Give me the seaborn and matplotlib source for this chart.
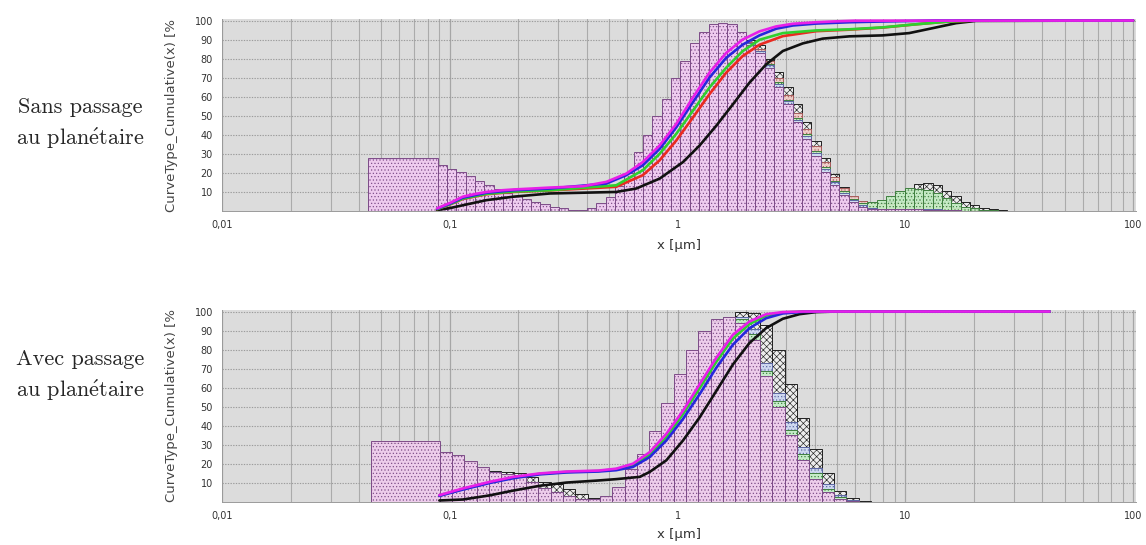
import numpy as np
import matplotlib
matplotlib.use("Agg")
import matplotlib.pyplot as plt
import seaborn as sns
from matplotlib.ticker import FixedLocator, FixedFormatter, LogLocator, MultipleLocator, NullFormatter

# ---------------- data ----------------
# size classes (µm): first wide class, then geometric classes of the instrument
top_first_edge = 0.0437
top_class_start = 0.0885
top_class_step = 0.041          # log10 width of a class
top_class_count = 61
bot_first_edge = 0.045
bot_class_start = 0.0903
bot_class_step = 0.0541
bot_class_count = 35

# density histograms, top panel (wide class + 61 classes)
top_magenta = [28, 24, 22.2, 20.5, 18.2, 15.8, 13.5, 11.3, 9.2, 7.8, 6.1, 4.7, 3.5, 2.3, 1.4, 0.6,
               0.6, 1.8, 4, 7.5, 13, 20, 31, 40, 50, 59, 70, 79, 88, 94, 98, 98.5, 98, 94, 87, 83,
               75, 65, 56, 46.5, 38, 29, 20.5, 13.5, 8.3, 4.9, 2.3, 1.2, 0.8, 0.8, 0.8, 0.8, 0.8,
               0.7, 0.6, 0.5, 0.3, 0.2, 0, 0, 0, 0]
top_blue = [27.5, 23.5, 21.8, 20, 17.8, 15.4, 13.2, 11, 9, 7.6, 6, 4.6, 3.4, 2.2, 1.3, 0.6,
            0.6, 1.6, 3.8, 7, 12, 19, 29.5, 38.5, 48.5, 57.5, 68, 77.5, 86.5, 93, 97, 98, 97.5,
            94, 88, 84, 76.5, 66.5, 57.5, 48, 39.5, 30.5, 22, 15, 9.5, 5.8, 3, 1.8, 1.2, 1, 1,
            1, 1, 0.9, 0.8, 0.6, 0.4, 0.2, 0.1, 0, 0, 0]
top_green = [26, 23, 21.5, 19.8, 17.5, 15, 12.8, 10.7, 8.7, 7.2, 5.6, 4.3, 3.2, 2.1, 1.3, 0.6,
             0.6, 1.5, 3.5, 6.5, 11.5, 18, 28, 37, 47, 56, 66, 75, 84, 90, 94, 96, 96, 93, 88,
             84, 77, 67.5, 58.5, 49, 40.5, 31.5, 23, 16, 10.5, 6.5, 4, 4.9, 6, 7.8, 10.6, 12.3,
             11.3, 11, 9.2, 6.6, 4, 2.3, 1.4, 0.6, 0.3, 0]
top_red = [27, 23.5, 22, 20, 17.8, 15.4, 13.1, 11, 9, 7.5, 5.8, 4.5, 3.3, 2.2, 1.3, 0.6,
           0.6, 1.4, 3.2, 6, 10.5, 16.5, 26, 35, 45, 54, 64, 73, 82, 88, 92, 94.5, 95, 93, 88.5,
           85, 79, 70, 61, 51.5, 43, 34, 25.5, 18, 12, 8, 5.5, 4, 3.5, 3.5, 4, 4.5, 4.5, 4, 3.5,
           2.5, 1.8, 1, 0.5, 0.2, 0, 0]
top_black = [16, 15, 14, 13, 12, 10.5, 9, 7.8, 6.5, 5.3, 4.2, 3.2, 2.4, 1.6, 1.0, 0.6,
             0.5, 1.0, 2.2, 4.5, 8, 13, 19, 26, 34, 42, 51, 60, 68, 76, 82, 87, 90, 91, 90, 87,
             80, 73, 65, 56, 46.5, 37, 28, 19.6, 12.7, 7.5, 5, 4, 4, 5.5, 8, 11, 14.4, 14.8,
             13.5, 10.6, 7.8, 4.9, 3.1, 1.7, 1, 0.4]

# density histograms, bottom panel (wide class + 35 classes)
bot_magenta = [32, 26, 24.5, 21.5, 18.5, 15.5, 14.5, 13, 10.5, 7.5, 5, 3, 1.8, 1.5, 3, 8,
               17.5, 25, 37.5, 52, 67, 80, 90, 96, 97, 94, 85, 66, 50, 35, 22, 12, 5, 1.5, 0.3, 0]
bot_blue = [30, 25, 23.5, 20.5, 17.5, 15, 14, 12.5, 10.2, 7.4, 5, 3, 1.8, 1.4, 2.6, 7,
            15.5, 23, 34.5, 48.5, 63, 76.5, 87.5, 94.5, 97, 97, 91, 73, 57, 42, 29, 18, 9.5, 3.5, 1, 0.2]
bot_green = [31, 25.5, 24, 21, 18, 15.2, 14.2, 12.7, 10.3, 7.4, 5, 3, 1.8, 1.4, 2.8, 7.5,
             16.5, 24, 36, 50, 65, 78, 89, 95, 97, 96, 88, 69, 53, 38, 25, 15, 7, 2.5, 0.6, 0]
bot_black = [25, 21, 19.5, 18, 17, 16.3, 15.8, 15.3, 13.2, 10.6, 9.7, 6.6, 4.2, 1.9, 1.2, 2.2,
             5, 10, 18, 28, 40, 55, 72, 86, 96, 100, 99, 93, 80, 62, 44, 28, 15, 6, 2, 0.5]

# cumulative curves, top panel
top_cum_magenta_x = [0.088, 0.10, 0.114, 0.13, 0.145, 0.17, 0.19, 0.23, 0.275, 0.385, 0.487, 0.595,
                     0.704, 0.834, 0.987, 1.167, 1.38, 1.635, 1.93, 2.29, 2.71, 3.21, 4.06, 4.8, 6.0, 100]
top_cum_magenta_y = [1.4, 4.2, 7.5, 9, 10, 10.9, 11.3, 11.8, 12.3, 13, 15.3, 19.6,
                     25.7, 34.4, 45.7, 59.5, 72.6, 83, 90, 94.3, 96.9, 98.3, 99.1, 99.5, 99.9, 100]
top_cum_blue_x = [0.088, 0.10, 0.114, 0.145, 0.19, 0.275, 0.487, 0.595, 0.704, 0.834, 0.987, 1.167,
                  1.38, 1.635, 1.93, 2.29, 2.71, 3.21, 4.06, 5.69, 7.96, 11.1, 13.5, 100]
top_cum_blue_y = [1.2, 3.8, 7, 9.6, 10.9, 11.8, 14.4, 18.8, 24, 32.6, 43.9, 57,
                  70, 80.4, 87.3, 92.2, 95.7, 97.4, 98.4, 99.1, 99.5, 99.8, 100, 100]
top_cum_green_x = [0.088, 0.10, 0.114, 0.145, 0.19, 0.275, 0.538, 0.704, 0.834, 0.987, 1.167, 1.38,
                   1.635, 1.93, 2.29, 2.90, 4.06, 5.69, 7.96, 11.1, 15.6, 20.4, 100]
top_cum_green_y = [1.0, 3.5, 6.5, 9, 10.2, 10.9, 13.5, 21.4, 30, 40.5, 52.6, 64.8,
                   75.2, 83.9, 89.9, 93.4, 94.8, 95.4, 96.4, 98, 99.5, 100, 100]
top_cum_red_x = [0.088, 0.10, 0.114, 0.145, 0.19, 0.275, 0.538, 0.704, 0.834, 0.987, 1.167, 1.38,
                 1.635, 1.93, 2.29, 2.90, 4.06, 5.69, 7.96, 11.1, 15.6, 20.4, 100]
top_cum_red_y = [1.0, 3.4, 6.3, 8.8, 10, 10.8, 12.7, 18.8, 26.6, 37, 49, 61.3,
                 72.6, 81.3, 87.3, 91.8, 94.4, 95.2, 96.3, 98, 99.5, 100, 100]
top_cum_black_x = [0.088, 0.10, 0.114, 0.145, 0.19, 0.275, 0.538, 0.659, 0.834, 1.057, 1.25, 1.48,
                   1.75, 2.07, 2.45, 2.90, 3.55, 4.34, 5.69, 7.96, 10.4, 13.2, 16.7, 20.4, 100]
top_cum_black_y = [0.5, 1.5, 3, 5.7, 7.5, 9.2, 10, 11.8, 17, 25.7, 34.4, 44.8,
                   56, 67.4, 77, 84, 88, 90.5, 91.7, 92.2, 93.4, 96, 98.6, 99.8, 100]

# cumulative curves, bottom panel
bot_cum_magenta_x = [0.09, 0.114, 0.15, 0.19, 0.248, 0.325, 0.45, 0.538, 0.637, 0.755, 0.893, 1.057,
                     1.25, 1.48, 1.75, 2.07, 2.45, 2.90, 3.55, 43]
bot_cum_magenta_y = [3.6, 7.1, 10.6, 13.2, 15, 16, 16.5, 17.5, 20.1, 26.2, 35.8, 47.9,
                     61.8, 75.7, 87.8, 94.8, 98.6, 99.7, 100, 100]
bot_cum_blue_x = [0.09, 0.114, 0.15, 0.19, 0.248, 0.325, 0.45, 0.538, 0.637, 0.755, 0.893, 1.057,
                  1.25, 1.48, 1.75, 2.07, 2.45, 2.90, 3.55, 4.6, 43]
bot_cum_blue_y = [3.2, 6.5, 10, 12.5, 14.5, 15.5, 16, 16.7, 18.4, 23.6, 32.3, 43.6,
                  56.6, 70.5, 82.6, 91.3, 96.5, 99, 99.8, 100, 100]
bot_cum_green_x = [0.09, 0.114, 0.15, 0.19, 0.248, 0.325, 0.45, 0.538, 0.637, 0.755, 0.893, 1.057,
                   1.25, 1.48, 1.75, 2.07, 2.45, 2.90, 3.55, 43]
bot_cum_green_y = [3.4, 6.8, 10.3, 12.8, 14.8, 15.8, 16.3, 17.2, 19.3, 25, 34, 46.2,
                   59.7, 73.6, 85.8, 93.4, 97.9, 99.5, 100, 100]
bot_cum_black_x = [0.09, 0.114, 0.15, 0.19, 0.248, 0.325, 0.45, 0.538, 0.683, 0.755, 0.893, 1.057,
                   1.25, 1.48, 1.75, 2.07, 2.45, 2.90, 3.43, 4.06, 4.97, 43]
bot_cum_black_y = [0.8, 1.3, 3.5, 6, 8.5, 10.2, 11.3, 12, 13.2, 15.8, 21.9, 32.3,
                   44.4, 58.3, 72.2, 83.5, 91.3, 96.2, 98.6, 99.7, 100, 100]

x_ticks = [0.01, 0.1, 1, 10, 100]
x_tick_labels = ["0,01", "0,1", "1", "10", "100"]
y_ticks = [10, 20, 30, 40, 50, 60, 70, 80, 90, 100]
y_tick_labels = ["10", "20", "30", "40", "50", "60", "70", "80", "90", "100"]
y_label = "CurveType_Cumulative(x) [%"
x_label = "x [µm]"
row_labels = ["Sans passage\nau plan$\\acute{\\mathrm{e}}$taire",
              "Avec passage\nau plan$\\acute{\\mathrm{e}}$taire"]

# ---------------- styles ----------------
HIST_STYLE = {
    "black": dict(color="#efefef", edgecolor="#202020", hatch="xxxxx"),
    "red": dict(color="#f4d0ca", edgecolor="#a85c5c", hatch="....."),
    "green": dict(color="#c4eec4", edgecolor="#3f7f3f", hatch="....."),
    "blue": dict(color="#d0dbf6", edgecolor="#5b66a3", hatch="....."),
    "magenta": dict(color="#f2caef", edgecolor="#7d4c88", hatch="....."),
}
LINE_COLOR = {"black": "#111111", "red": "#ea2a20", "green": "#2fd02f",
              "blue": "#2727dc", "magenta": "#e81fe8"}

sns.set_style("white")
plt.rcParams["font.family"] = ["DejaVu Sans"]
plt.rcParams["mathtext.fontset"] = "cm"
plt.rcParams["hatch.linewidth"] = 0.45

fig = plt.figure(figsize=(11.46, 5.45), dpi=100)
fig.patch.set_facecolor("white")
W, H = 1146.0, 545.0
ax_top = fig.add_axes([222 / W, 1 - 211 / H, 914 / W, 192 / H])
ax_bot = fig.add_axes([222 / W, 1 - 502 / H, 914 / W, 192 / H])


def class_edges(first, start, step, count):
    return np.concatenate([[first], start * 10 ** (step * np.arange(count + 1))])


def draw_hist(ax, edges, heights, name):
    edges = np.asarray(edges, dtype=float)
    centers = np.sqrt(edges[:-1] * edges[1:])
    st = HIST_STYLE[name]
    sns.histplot(x=centers, weights=np.asarray(heights, dtype=float),
                 bins=[float(v) for v in np.log10(edges)],
                 log_scale=True, ax=ax, stat="count", element="bars", fill=True,
                 color=st["color"], edgecolor=st["edgecolor"], hatch=st["hatch"],
                 linewidth=0.7, alpha=0.9, zorder=2)


def draw_cum(ax, xs, ys, name):
    sns.lineplot(x=xs, y=ys, ax=ax, color=LINE_COLOR[name], linewidth=1.9,
                 estimator=None, sort=False, legend=False, zorder=5)


def style_axes(ax, xlabel_off):
    ax.set_facecolor("#dcdcdc")
    ax.set_xscale("log")
    ax.set_xlim(0.01, 103)
    ax.set_ylim(0, 100.8)
    ax.xaxis.set_major_locator(FixedLocator(x_ticks))
    ax.xaxis.set_major_formatter(FixedFormatter(x_tick_labels))
    ax.xaxis.set_minor_locator(LogLocator(base=10, subs=np.arange(2, 10)))
    ax.xaxis.set_minor_formatter(NullFormatter())
    ax.yaxis.set_major_locator(FixedLocator(y_ticks))
    ax.yaxis.set_major_formatter(FixedFormatter(y_tick_labels))
    ax.yaxis.set_minor_locator(MultipleLocator(2))
    ax.set_axisbelow(True)
    ax.grid(which="major", axis="x", color="#a6a6a6", linewidth=0.9)
    ax.grid(which="minor", axis="x", color="#ababab", linewidth=0.8)
    ax.grid(which="major", axis="y", color="#9c9c9c", linewidth=0.8, linestyle=(0, (1.2, 1.2)))
    ax.tick_params(axis="both", which="major", labelsize=7, length=3, width=0.6,
                   color="#777777", labelcolor="#333333", direction="out")
    ax.tick_params(axis="both", which="minor", length=1.8, width=0.5, color="#888888")
    for s in ["top", "right"]:
        ax.spines[s].set_visible(False)
    for s in ["left", "bottom"]:
        ax.spines[s].set_color("#9a9a9a")
        ax.spines[s].set_linewidth(0.7)
    ax.set_ylabel(y_label, fontsize=9.5, color="#444444")
    ax.yaxis.set_label_coords(-44 / 914, 0.5)
    ax.set_xlabel(x_label, fontsize=9.5, color="#333333")
    ax.xaxis.set_label_coords(0.5, xlabel_off)


# top panel
e_top = class_edges(top_first_edge, top_class_start, top_class_step, top_class_count)
for name, vals in [("black", top_black), ("red", top_red), ("green", top_green),
                   ("blue", top_blue), ("magenta", top_magenta)]:
    draw_hist(ax_top, e_top, vals, name)
for name, xs, ys in [("black", top_cum_black_x, top_cum_black_y),
                     ("red", top_cum_red_x, top_cum_red_y),
                     ("green", top_cum_green_x, top_cum_green_y),
                     ("blue", top_cum_blue_x, top_cum_blue_y),
                     ("magenta", top_cum_magenta_x, top_cum_magenta_y)]:
    draw_cum(ax_top, xs, ys, name)
style_axes(ax_top, -28 / 192)

# bottom panel
e_bot = class_edges(bot_first_edge, bot_class_start, bot_class_step, bot_class_count)
for name, vals in [("black", bot_black), ("blue", bot_blue), ("green", bot_green),
                   ("magenta", bot_magenta)]:
    draw_hist(ax_bot, e_bot, vals, name)
for name, xs, ys in [("black", bot_cum_black_x, bot_cum_black_y),
                     ("green", bot_cum_green_x, bot_cum_green_y),
                     ("blue", bot_cum_blue_x, bot_cum_blue_y),
                     ("magenta", bot_cum_magenta_x, bot_cum_magenta_y)]:
    draw_cum(ax_bot, xs, ys, name)
style_axes(ax_bot, -26 / 192)

# row labels
fig.text(80 / W, 1 - 124 / H, row_labels[0], ha="center", va="center", fontsize=16,
         family=["cmr10", "DejaVu Serif"], linespacing=1.45)
fig.text(80 / W, 1 - 376 / H, row_labels[1], ha="center", va="center", fontsize=16,
         family=["cmr10", "DejaVu Serif"], linespacing=1.45)

fig.savefig("out.png", dpi=100, facecolor="white")
